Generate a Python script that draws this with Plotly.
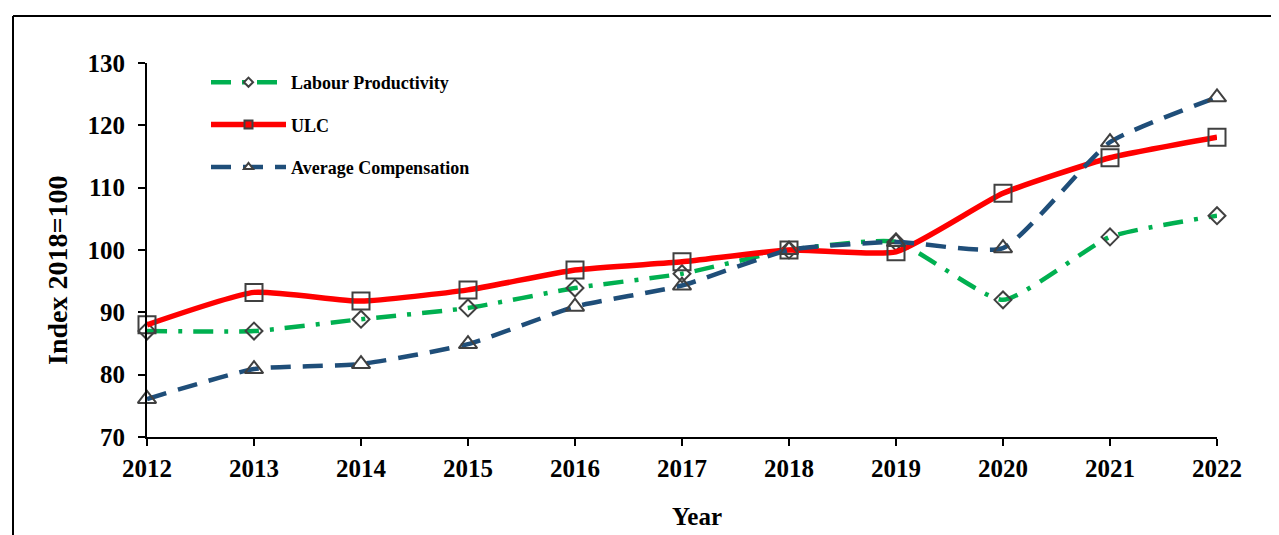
import plotly.graph_objects as go

years = [2012, 2013, 2014, 2015, 2016, 2017, 2018, 2019, 2020, 2021, 2022]
labour_productivity = [87.0, 87.0, 88.9, 90.7, 93.9, 96.2, 100.0, 101.3, 92.0, 102.1, 105.5]
ulc = [88.0, 93.2, 91.8, 93.6, 96.8, 98.1, 100.0, 99.7, 109.1, 114.8, 118.1]
avg_comp = [76.1, 80.9, 81.7, 84.9, 90.9, 94.3, 100.0, 101.3, 100.3, 117.3, 124.5]
y_ticks = [70, 80, 90, 100, 110, 120, 130]

FONT = "Liberation Serif"
OFF = 8  # default page body margin
W, H = 1279 - OFF, 535 - OFF
L, R, T, B = 147 - OFF, 62, 63 - OFF, 98
PW, PH = W - L - R, H - T - B

def px_x(px):
    return (px - OFF - L) / PW

def px_y(py):
    return (H - B - (py - OFF)) / PH

series = [
    ("Labour Productivity", labour_productivity, "#00B050", 4.5, "20px,11px,4px,11px", "diamond-open", 13, 7),
    ("ULC", ulc, "#FF0000", 5.5, "solid", "square-open", 17, 8),
    ("Average Compensation", avg_comp, "#1F4E79", 4.5, "20px,12px", "triangle-up-open", 16, 8),
]

fig = go.Figure()
for name, vals, color, width, dash, sym, msize, _ in series:
    fig.add_trace(go.Scatter(
        x=years, y=vals, mode="lines+markers", name=name, showlegend=False, cliponaxis=False,
        line=dict(color=color, width=width, dash=dash, shape="spline", smoothing=0.5),
        marker=dict(symbol=sym, size=msize, color="#404040", line=dict(color="#404040", width=2)),
    ))

for i, (name, vals, color, width, dash, sym, msize, lsize) in enumerate(series):
    fig.add_trace(go.Scatter(
        x=[None], y=[None], mode="lines+markers", name=name, legendgroup=f"g{i}",
        line=dict(color=color, width=width, dash=dash),
        marker=dict(symbol=sym.replace("-open", ""), size=lsize, color=color if name == "ULC" else "white",
                    line=dict(color="#404040", width=2)),
    ))

shapes = [
    dict(type="line", xref="paper", yref="paper", x0=px_x(13), x1=px_x(13), y0=px_y(16), y1=px_y(545),
         line=dict(color="black", width=2)),
    dict(type="line", xref="paper", yref="paper", x0=px_x(13), x1=px_x(1290), y0=px_y(16), y1=px_y(16),
         line=dict(color="black", width=2)),
]

fig.update_layout(
    width=W, height=H,
    margin=dict(l=L, r=R, t=T, b=B),
    paper_bgcolor="white", plot_bgcolor="white",
    font=dict(family=FONT, color="black"),
    shapes=shapes,
    showlegend=True,
    legend=dict(x=px_x(206), y=px_y(64), xanchor="left", yanchor="top",
                font=dict(family=FONT, size=18, color="black", weight="bold"),
                tracegroupgap=16, itemwidth=75, bgcolor="rgba(0,0,0,0)"),
    xaxis=dict(range=[2012, 2022], tickvals=years, ticktext=[str(y) for y in years],
               showgrid=False, zeroline=False, showline=True, linecolor="black", linewidth=2,
               ticks="outside", ticklen=7, tickwidth=2, tickcolor="black", ticklabelstandoff=1,
               tickfont=dict(family=FONT, size=25, color="black", weight="bold")),
    yaxis=dict(range=[70, 130], tickvals=y_ticks,
               showgrid=False, zeroline=False, showline=True, linecolor="black", linewidth=2,
               ticks="outside", ticklen=7, tickwidth=2, tickcolor="black", ticklabelstandoff=8,
               tickfont=dict(family=FONT, size=25, color="black", weight="bold")),
    annotations=[
        dict(text="<b>Year</b>", xref="paper", yref="paper", x=px_x(697), y=px_y(516),
             xanchor="center", yanchor="middle",
             showarrow=False, font=dict(family=FONT, size=25, color="black")),
        dict(text="<b>Index 2018=100</b>", xref="paper", yref="paper", x=px_x(57), y=px_y(271),
             xanchor="center", yanchor="middle",
             showarrow=False, textangle=-90, font=dict(family=FONT, size=28, color="black")),
    ],
)

fig.write_html("out.html")
